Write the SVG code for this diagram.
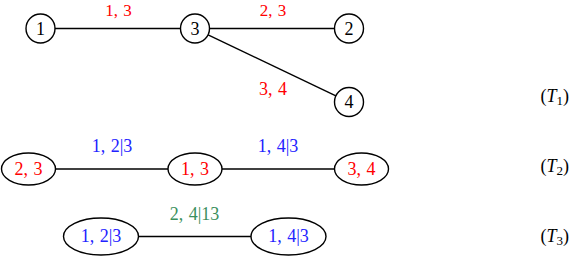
<svg xmlns="http://www.w3.org/2000/svg" width="571" height="259" viewBox="0 0 571 259">
<style>
  .nd { fill: #fff; stroke: #000; stroke-width: 1.4; }
  .ed { stroke: #000; stroke-width: 1.4; fill: none; }
  text { font-family: "Liberation Serif", "Times New Roman", serif; font-size: 18px; text-anchor: middle; word-spacing: 1px; }
  .k { fill: #000; }
  .r { fill: #ff0000; }
  .b { fill: #2222ff; }
  .g { fill: #3a8f5c; }
  .t { text-anchor: end; fill: #000; }
  .top { font-size: 17px; }
</style>
<rect width="571" height="259" fill="#fff"/>
<g id="connectors">
  <line class="ed" x1="55" y1="28.5" x2="180.5" y2="28.5"/>
  <line class="ed" x1="209.5" y1="28.5" x2="334.5" y2="28.5"/>
  <line class="ed" x1="208.1" y1="34.8" x2="335.9" y2="95.8"/>
  <line class="ed" x1="55.5" y1="169" x2="168" y2="169"/>
  <line class="ed" x1="222" y1="169" x2="334.5" y2="169"/>
  <line class="ed" x1="138.5" y1="236.5" x2="251" y2="236.5"/>
</g>
<g id="edge-labels">
  <text class="r top" x="118.5" y="15.5">1, 3</text>
  <text class="r top" x="273" y="15.5">2, 3</text>
  <text class="r" x="273" y="95">3, 4</text>
  <text class="b" x="112" y="152">1, 2|3</text>
  <text class="b" x="278" y="152">1, 4|3</text>
  <text class="g" x="194.5" y="220">2, 4|13</text>
</g>
<g id="n1"><circle class="nd" cx="40.5" cy="28.5" r="14.5"/><text class="k" x="40.5" y="34.5">1</text></g>
<g id="n3"><circle class="nd" cx="195" cy="28.5" r="14.5"/><text class="k" x="195" y="34.5">3</text></g>
<g id="n2"><circle class="nd" cx="349" cy="28.5" r="14.5"/><text class="k" x="349" y="34.5">2</text></g>
<g id="n4"><circle class="nd" cx="349" cy="102" r="14.5"/><text class="k" x="349" y="108">4</text></g>
<g id="m23"><ellipse class="nd" cx="28.5" cy="169" rx="27" ry="16"/><text class="r" x="28.5" y="174.5">2, 3</text></g>
<g id="m13"><ellipse class="nd" cx="195" cy="169" rx="27" ry="16"/><text class="r" x="195" y="174.5">1, 3</text></g>
<g id="m34"><ellipse class="nd" cx="361.5" cy="169" rx="27" ry="16"/><text class="r" x="361.5" y="174.5">3, 4</text></g>
<g id="s123"><ellipse class="nd" cx="101" cy="236.5" rx="37.5" ry="18.5"/><text class="b" x="101" y="242">1, 2|3</text></g>
<g id="s143"><ellipse class="nd" cx="288.5" cy="236.5" rx="37.5" ry="18.5"/><text class="b" x="288.5" y="242">1, 4|3</text></g>
<g id="tree-labels">
  <text class="t" x="569" y="102">(<tspan font-style="italic">T</tspan><tspan font-size="13" dy="3">1</tspan><tspan dy="-3">)</tspan></text>
  <text class="t" x="569" y="172">(<tspan font-style="italic">T</tspan><tspan font-size="13" dy="3">2</tspan><tspan dy="-3">)</tspan></text>
  <text class="t" x="569" y="242">(<tspan font-style="italic">T</tspan><tspan font-size="13" dy="3">3</tspan><tspan dy="-3">)</tspan></text>
</g>
</svg>
